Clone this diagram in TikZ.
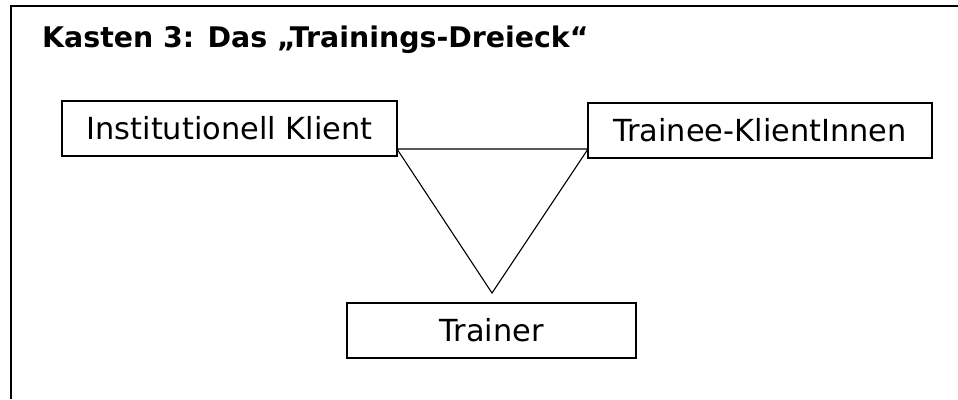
\documentclass[tikz,border=0pt]{standalone}
\usepackage{fontspec}
\setmainfont{DejaVu Sans}
\begin{document}
\begin{tikzpicture}[x=1pt,y=-1pt,
  box/.style={draw=black, line width=2pt, inner sep=0pt, outer sep=0pt,
    font=\fontsize{30.4}{36}\selectfont, text=black},
  thin line/.style={draw=black, line width=1.1pt, line join=miter}]
\useasboundingbox (0,0) rectangle (958,399);
% open frame (top and left sides only)
\coordinate (fr) at (958,6);
\coordinate (fc) at (11,6);
\coordinate (fb) at (11,399);
\draw[line width=2pt] (fr) -- (fc) -- (fb);
% title
\node[anchor=base west, inner sep=0pt, font=\fontsize{28.4}{34}\selectfont\bfseries] (title) at (42,47.5) {Kasten 3: Das „Trainings-Dreieck“};
% boxes
\node[box, minimum width=335pt, minimum height=55pt] (inst) at (229.5,128.5) {Institutionell Klient};
\node[box, minimum width=344pt, minimum height=55pt] (trainee) at (760,130.5) {Trainee-KlientInnen};
\node[box, minimum width=289pt, minimum height=55pt] (trainer) at (491.5,330.5) {Trainer};
% triangle
\coordinate (tl) at (397,149);
\coordinate (tr) at (588,149);
\coordinate (ap) at (492,293);
\draw[thin line] (tl) -- (tr) -- (ap) -- cycle;
\end{tikzpicture}
\end{document}
